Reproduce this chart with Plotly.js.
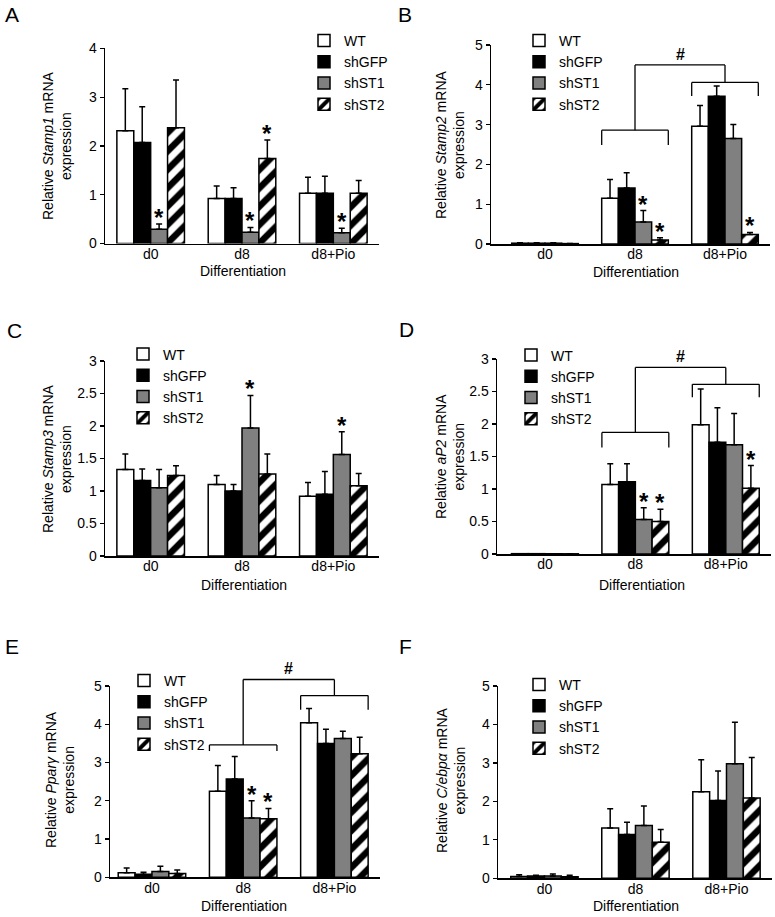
<!DOCTYPE html>
<html><head><meta charset="utf-8">
<script src="https://cdn.plot.ly/plotly-3.0.1.min.js"></script>
<style>html,body{margin:0;padding:0;background:#fff}#chart{width:775px;height:917px}</style>
</head><body><div id="chart"></div>
<script>
// ---------- data ----------
const categories = ['d0', 'd8', 'd8+Pio'];
const groups = ['WT', 'shGFP', 'shST1', 'shST2'];

// rows: WT, shGFP, shST1, shST2 ; columns: d0, d8, d8+Pio
const stamp1Values = [[2.31, 0.92, 1.03], [2.07, 0.92, 1.03], [0.29, 0.23, 0.22], [2.37, 1.74, 1.03]];
const stamp1Errors = [[0.86, 0.26, 0.33], [0.73, 0.22, 0.35], [0.11, 0.10, 0.09], [0.98, 0.38, 0.26]];
const stamp1Stars = [[2, 0], [2, 1], [3, 1], [2, 2]];

const stamp2Values = [[0.02, 1.15, 2.96], [0.02, 1.41, 3.71], [0.02, 0.55, 2.65], [0.01, 0.10, 0.24]];
const stamp2Errors = [[0.01, 0.47, 0.52], [0.01, 0.38, 0.26], [0.01, 0.29, 0.35], [0.00, 0.06, 0.05]];
const stamp2Stars = [[2, 1], [3, 1], [3, 2]];

const stamp3Values = [[1.33, 1.10, 0.92], [1.16, 1.00, 0.95], [1.05, 1.97, 1.56], [1.24, 1.26, 1.08]];
const stamp3Errors = [[0.24, 0.14, 0.21], [0.18, 0.10, 0.35], [0.28, 0.50, 0.35], [0.15, 0.31, 0.19]];
const stamp3Stars = [[2, 1], [2, 2]];

const ap2Values = [[0.005, 1.07, 1.99], [0.005, 1.11, 1.72], [0.004, 0.53, 1.68], [0.003, 0.50, 1.01]];
const ap2Errors = [[0, 0.32, 0.55], [0, 0.28, 0.53], [0, 0.18, 0.48], [0, 0.19, 0.35]];
const ap2Stars = [[2, 1], [3, 1], [3, 2]];

const ppargValues = [[0.12, 2.25, 4.04], [0.08, 2.57, 3.50], [0.15, 1.55, 3.63], [0.10, 1.53, 3.23]];
const ppargErrors = [[0.12, 0.67, 0.37], [0.05, 0.59, 0.37], [0.14, 0.45, 0.19], [0.09, 0.27, 0.43]];
const ppargStars = [[2, 1], [3, 1]];

const cebpaValues = [[0.05, 1.31, 2.25], [0.06, 1.14, 2.02], [0.06, 1.37, 2.98], [0.04, 0.94, 2.09]];
const cebpaErrors = [[0.04, 0.50, 0.83], [0.02, 0.32, 0.77], [0.05, 0.51, 1.08], [0.04, 0.33, 1.05]];
const cebpaStars = [];

// significance brackets (d8 vs d8+Pio), in data units: lower, lowerLeg, upper, upperLeg, top
const stamp2Bracket = [2.86, 2.49, 4.06, 3.72, 4.50];
const ap2Bracket = [1.87, 1.64, 2.61, 2.41, 2.87];
const ppargBracket = [3.46, 3.30, 4.75, 4.38, 5.17];

// ---------- layout config ----------
const W = 775, H = 917;
const BARGAP = 0.26;
const FONT = 'Liberation Sans, Arial, sans-serif';
const panels = [
  {letter: 'A', gene: 'Stamp1', vals: stamp1Values, errs: stamp1Errors, stars: stamp1Stars, br: null,
   xL: 105, xR: 379, r0: -0.5, yTop: 48.3, yBot: 243.5, ymax: 4, dtick: 1,
   letterPos: [12, 14.5], ytPos: [57, 146], xtPos: [242.5, 271], legPos: [304, 25]},
  {letter: 'B', gene: 'Stamp2', vals: stamp2Values, errs: stamp2Errors, stars: stamp2Stars, br: stamp2Bracket,
   xL: 491, xR: 770, r0: -0.6, yTop: 45, yBot: 244, ymax: 5, dtick: 1,
   letterPos: [405, 14.5], ytPos: [450, 145], xtPos: [636, 272], legPos: [519, 25]},
  {letter: 'C', gene: 'Stamp3', vals: stamp3Values, errs: stamp3Errors, stars: stamp3Stars, br: null,
   xL: 105, xR: 379, r0: -0.5, yTop: 361, yBot: 556, ymax: 3, dtick: 0.5,
   letterPos: [14, 330], ytPos: [57, 459], xtPos: [243.5, 585], legPos: [123, 338.5]},
  {letter: 'D', gene: 'aP2', vals: ap2Values, errs: ap2Errors, stars: ap2Stars, br: ap2Bracket,
   xL: 497, xR: 771, r0: -0.53, yTop: 359, yBot: 554, ymax: 3, dtick: 0.5,
   letterPos: [406, 329.5], ytPos: [450, 457], xtPos: [642, 585], legPos: [511, 339.5]},
  {letter: 'E', gene: 'Pparγ', vals: ppargValues, errs: ppargErrors, stars: ppargStars, br: ppargBracket,
   xL: 110, xR: 380, r0: -0.46, yTop: 686, yBot: 877.3, ymax: 5, dtick: 1,
   letterPos: [12, 646.5], ytPos: [60, 780], xtPos: [244, 906], legPos: [124, 665]},
  {letter: 'F', gene: 'C/ebpα', vals: cebpaValues, errs: cebpaErrors, stars: cebpaStars, br: null,
   xL: 498, xR: 772, r0: -0.51, yTop: 686, yBot: 878.3, ymax: 5, dtick: 1,
   letterPos: [405, 646.5], ytPos: [451, 780], xtPos: [636, 906], legPos: [519, 669]}
];

const styles = [
  {color: '#ffffff'},
  {color: '#000000'},
  {color: '#808080'},
  {color: '#ffffff', pattern: {shape: '/', fgcolor: '#000000', bgcolor: '#ffffff', size: 13, solidity: 0.5, fillmode: 'replace'}}
];

const traces = [];
const layout = {
  width: W, height: H, margin: {l: 0, r: 0, t: 0, b: 0},
  paper_bgcolor: '#ffffff', plot_bgcolor: '#ffffff',
  font: {family: FONT, size: 14, color: '#000000'},
  barmode: 'group', bargap: BARGAP, bargroupgap: 0,
  showlegend: true, annotations: [], shapes: []
};

const groupW = (1 - BARGAP) / groups.length;

panels.forEach((p, i) => {
  const n = i + 1;
  const xa = n === 1 ? 'x' : 'x' + n;
  const ya = n === 1 ? 'y' : 'y' + n;
  const lg = n === 1 ? 'legend' : 'legend' + n;
  const r1 = 2.5;

  groups.forEach((g, gi) => {
    const st = styles[gi];
    const marker = {color: st.color, line: {color: '#000000', width: 1.5}};
    if (st.pattern) marker.pattern = st.pattern;
    traces.push({
      type: 'bar', name: g, x: categories, y: p.vals[gi],
      xaxis: xa, yaxis: ya, legend: lg, marker: marker,
      error_y: {type: 'data', symmetric: false, array: p.errs[gi],
                arrayminus: p.errs[gi].map(() => 0), color: '#000000', thickness: 1.5, width: 3},
      hoverinfo: 'skip'
    });
  });

  layout['xaxis' + (n === 1 ? '' : n)] = {
    domain: [p.xL / W, p.xR / W], anchor: ya, type: 'category', range: [p.r0, r1],
    showline: true, linecolor: '#000000', linewidth: 1.5, ticks: '', showgrid: false, zeroline: false,
    ticklabelstandoff: -3,
    tickfont: {family: FONT, size: 14, color: '#000000'}, fixedrange: true
  };
  layout['yaxis' + (n === 1 ? '' : n)] = {
    domain: [1 - p.yBot / H, 1 - p.yTop / H], anchor: xa, range: [0, p.ymax],
    tick0: 0, dtick: p.dtick, ticks: 'outside', ticklen: 4, tickwidth: 1.2, tickcolor: '#000000',
    showline: true, linecolor: '#000000', linewidth: 1.5, showgrid: false, zeroline: false,
    tickfont: {family: FONT, size: 14, color: '#000000'}, fixedrange: true
  };
  layout[lg] = {
    x: p.legPos[0] / W, y: 1 - p.legPos[1] / H, xref: 'paper', yref: 'paper',
    xanchor: 'left', yanchor: 'top', bgcolor: 'rgba(0,0,0,0)', borderwidth: 0,
    font: {family: FONT, size: 14, color: '#000000'}, traceorder: 'normal'
  };

  // panel letter
  layout.annotations.push({text: p.letter, xref: 'paper', yref: 'paper',
    x: p.letterPos[0] / W, y: 1 - p.letterPos[1] / H, xanchor: 'center', yanchor: 'middle',
    showarrow: false, font: {family: FONT, size: 21, color: '#000000'}});
  // y title
  layout.annotations.push({text: 'Relative <i>' + p.gene + '</i> mRNA<br>expression', xref: 'paper', yref: 'paper',
    x: p.ytPos[0] / W, y: 1 - p.ytPos[1] / H, xanchor: 'center', yanchor: 'middle', textangle: -90,
    showarrow: false, font: {family: FONT, size: 14, color: '#000000'}});
  // x title
  layout.annotations.push({text: 'Differentiation', xref: 'paper', yref: 'paper',
    x: p.xtPos[0] / W, y: 1 - p.xtPos[1] / H, xanchor: 'center', yanchor: 'middle',
    showarrow: false, font: {family: FONT, size: 14, color: '#000000'}});

  // stars
  p.stars.forEach(([gi, ci]) => {
    layout.annotations.push({text: '<b>*</b>', xref: xa, yref: ya,
      x: ci + (gi - 1.5) * groupW, y: p.vals[gi][ci] + p.errs[gi][ci],
      xanchor: 'center', yanchor: 'bottom', yshift: -9, showarrow: false,
      font: {family: FONT, size: 24, color: '#000000'}});
  });

  // brackets
  if (p.br) {
    const [low, lowLeg, up, upLeg, top] = p.br;
    const hw = (1 - BARGAP) / 2;
    const X = idx => (p.xL + (idx - p.r0) / (r1 - p.r0) * (p.xR - p.xL)) / W;
    const Y = v => 1 - (p.yBot - v / p.ymax * (p.yBot - p.yTop)) / H;
    const line = (x0, y0, x1, y1) => layout.shapes.push({type: 'line', xref: 'paper', yref: 'paper',
      x0: X(x0), y0: Y(y0), x1: X(x1), y1: Y(y1), line: {color: '#000000', width: 1.3}});
    line(1 - hw, lowLeg, 1 - hw, low); line(1 - hw, low, 1 + hw, low); line(1 + hw, low, 1 + hw, lowLeg);
    line(2 - hw, upLeg, 2 - hw, up); line(2 - hw, up, 2 + hw, up); line(2 + hw, up, 2 + hw, upLeg);
    line(1, low, 1, top); line(2, up, 2, top); line(1, top, 2, top);
    layout.annotations.push({text: '<b>#</b>', xref: 'paper', yref: 'paper', x: X(1.5), y: Y(top),
      xanchor: 'center', yanchor: 'bottom', yshift: 0, showarrow: false,
      font: {family: FONT, size: 16, color: '#000000'}});
  }
});

Plotly.newPlot('chart', traces, layout, {staticPlot: true, displayModeBar: false});
</script>
</body></html>
